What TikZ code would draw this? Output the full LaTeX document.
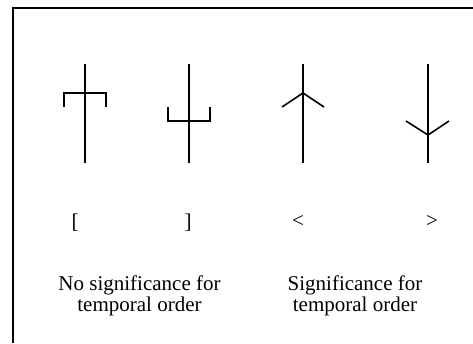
\documentclass[tikz,border=0pt]{standalone}
\usepackage{fontspec}
\setmainfont{Liberation Serif}
\begin{document}
\begin{tikzpicture}[x=1pt,y=-1pt,
  glyph/.style={line width=1.6pt, line cap=butt, line join=miter},
  sym/.style={font=\fontsize{21}{21}\selectfont, inner sep=0pt, anchor=base},
  captext/.style={font=\fontsize{21}{21}\selectfont, inner sep=0pt}]
\useasboundingbox (0,0) rectangle (473,343);
% frame
\coordinate (fa) at (13,343);
\coordinate (fb) at (13,8);
\coordinate (fc) at (473,8);
\draw[line width=1.6pt] (fa) -- (fb) -- (fc);
% glyph 1
\coordinate (a1) at (85,64); \coordinate (a2) at (85,163);
\draw[glyph] (a1) -- (a2);
\draw[glyph] (64,107) -- (64,93) -- (106,93) -- (106,107);
% glyph 2
\coordinate (b1) at (189,64); \coordinate (b2) at (189,163);
\draw[glyph] (b1) -- (b2);
\draw[glyph] (168,107) -- (168,121) -- (210,121) -- (210,107);
% glyph 3
\coordinate (c1) at (303,64); \coordinate (c2) at (303,163);
\draw[glyph] (c1) -- (c2);
\draw[glyph] (282,107) -- (303,93) -- (324,107);
% glyph 4
\coordinate (d1) at (428,64); \coordinate (d2) at (428,163);
\draw[glyph] (d1) -- (d2);
\draw[glyph] (406,121) -- (428,135) -- (449,121);
% symbols
\node[sym] (s1) at (75,228) {[};
\node[sym] (s2) at (188,228) {]};
\node[sym] (s3) at (298,227) {<};
\node[sym] (s4) at (432,227) {>};
% captions
\node[captext] (t1) at (139.5,296.3) {\begin{tabular}{@{}c@{}}No significance for\\temporal order\end{tabular}};
\node[captext] (t2) at (355,296.3) {\begin{tabular}{@{}c@{}}Significance for\\temporal order\end{tabular}};
\end{tikzpicture}
\end{document}
